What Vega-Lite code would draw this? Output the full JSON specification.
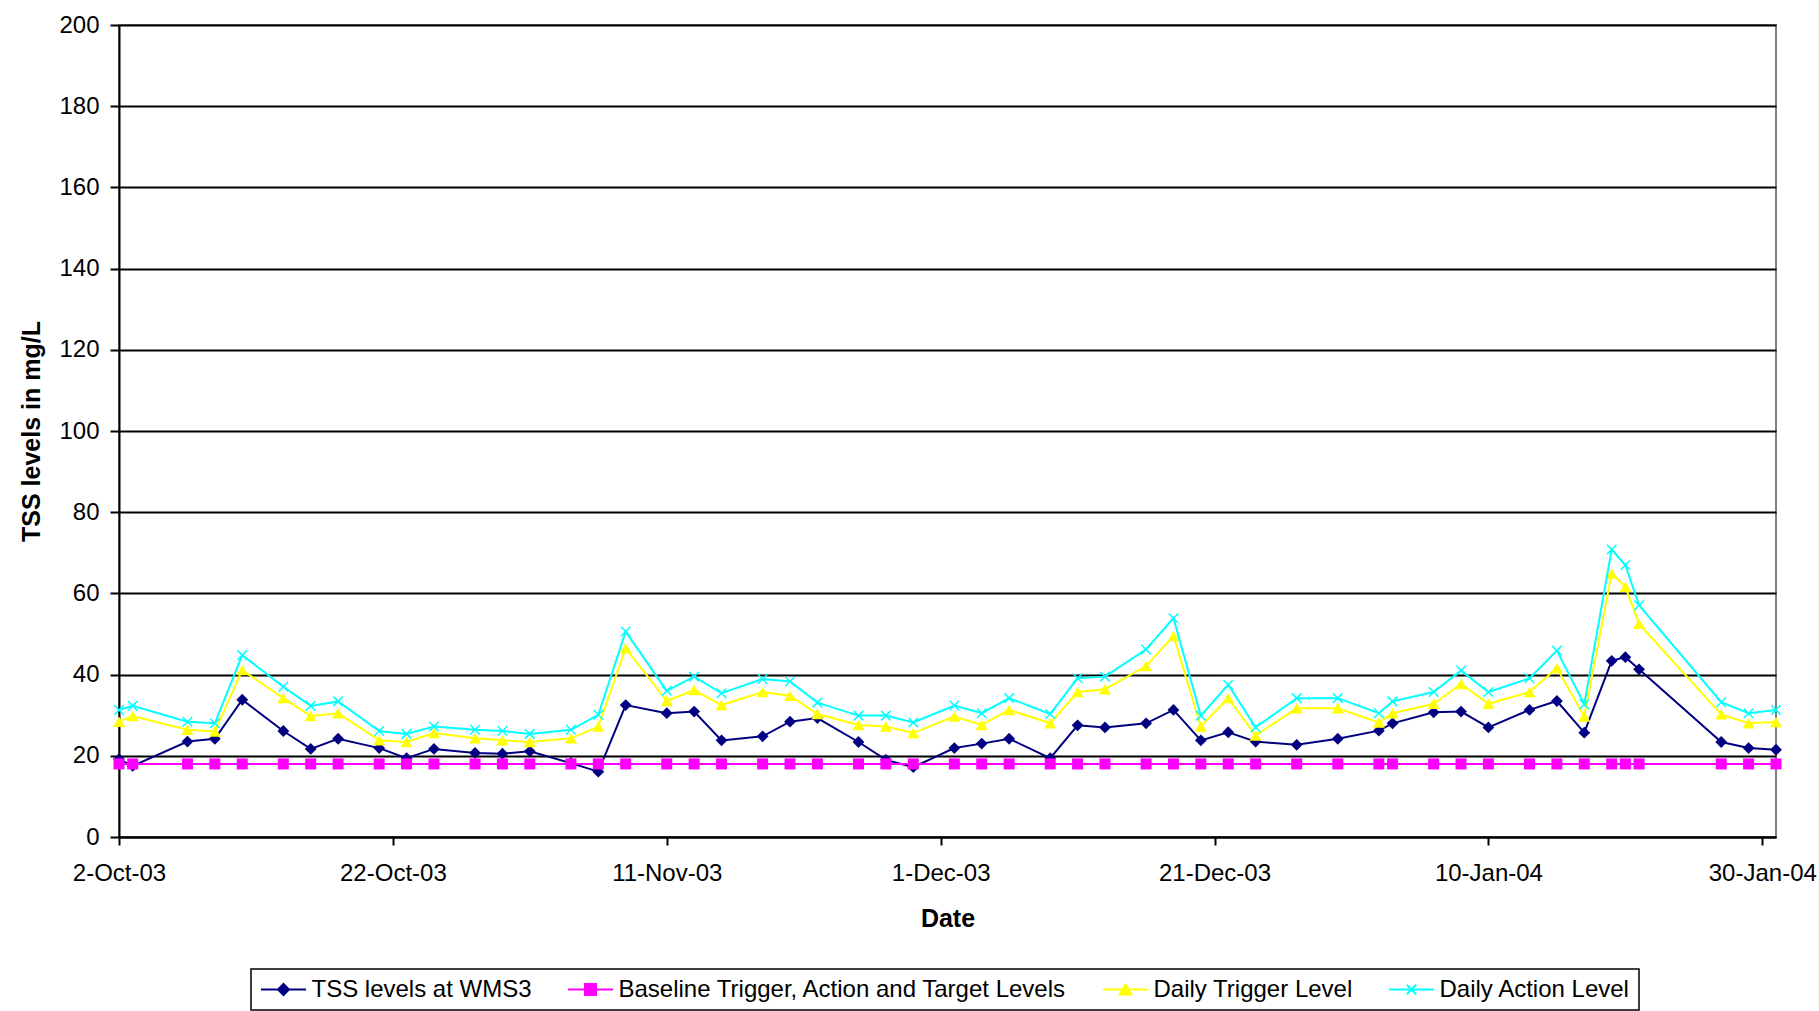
{
  "$schema": "https://vega.github.io/schema/vega-lite/v6.json",
  "width": 1657,
  "height": 812,
  "autosize": "none",
  "padding": {"left": 119, "top": 25, "right": 43, "bottom": 174},
  "background": "white",
  "config": {
    "font": "Liberation Sans",
    "view": {"stroke": "#808080", "strokeWidth": 2},
    "axis": {
      "domainColor": "#000", "domainWidth": 2, "tickColor": "#000", "tickWidth": 2, "tickSize": 8,
      "labelFont": "Liberation Sans", "labelFontSize": 24, "labelColor": "#000",
      "titleFont": "Liberation Sans", "titleFontSize": 25, "titleFontWeight": "bold", "titleColor": "#000"
    },
    "axisY": {"grid": true, "gridColor": "#000", "gridWidth": 2, "gridOpacity": 1, "tickCount": 10, "labelPadding": 11, "titlePadding": 14, "tickSize": 9},
    "axisX": {"grid": false, "labelPadding": 16, "titlePadding": 21},
    "legend": {"strokeWidth": 1.5}
  },
  "data": {"values": [
    {"date": "2003-10-02", "tss": 19.2, "base": 18, "trig": 28.4, "act": 31.3},
    {"date": "2003-10-03", "tss": 17.5, "base": 18, "trig": 29.8, "act": 32.3},
    {"date": "2003-10-07", "tss": 23.5, "base": 18, "trig": 26.4, "act": 28.4},
    {"date": "2003-10-09", "tss": 24.2, "base": 18, "trig": 26.0, "act": 28.0},
    {"date": "2003-10-11", "tss": 33.8, "base": 18, "trig": 41.1, "act": 44.8},
    {"date": "2003-10-14", "tss": 26.1, "base": 18, "trig": 34.2, "act": 37.0},
    {"date": "2003-10-16", "tss": 21.7, "base": 18, "trig": 29.8, "act": 32.3},
    {"date": "2003-10-18", "tss": 24.2, "base": 18, "trig": 30.5, "act": 33.4},
    {"date": "2003-10-21", "tss": 21.9, "base": 18, "trig": 23.8, "act": 26.1},
    {"date": "2003-10-23", "tss": 19.4, "base": 18, "trig": 23.4, "act": 25.4},
    {"date": "2003-10-25", "tss": 21.7, "base": 18, "trig": 25.6, "act": 27.2},
    {"date": "2003-10-28", "tss": 20.7, "base": 18, "trig": 24.3, "act": 26.4},
    {"date": "2003-10-30", "tss": 20.5, "base": 18, "trig": 23.8, "act": 26.1},
    {"date": "2003-11-01", "tss": 21.1, "base": 18, "trig": 23.4, "act": 25.4},
    {"date": "2003-11-04", "tss": 18.2, "base": 18, "trig": 24.3, "act": 26.4},
    {"date": "2003-11-06", "tss": 16.1, "base": 18, "trig": 27.2, "act": 30.1},
    {"date": "2003-11-08", "tss": 32.5, "base": 18, "trig": 46.5, "act": 50.6},
    {"date": "2003-11-11", "tss": 30.5, "base": 18, "trig": 33.5, "act": 36.0},
    {"date": "2003-11-13", "tss": 30.9, "base": 18, "trig": 36.2, "act": 39.5},
    {"date": "2003-11-15", "tss": 23.8, "base": 18, "trig": 32.5, "act": 35.4},
    {"date": "2003-11-18", "tss": 24.8, "base": 18, "trig": 35.7, "act": 38.9},
    {"date": "2003-11-20", "tss": 28.4, "base": 18, "trig": 34.8, "act": 38.3},
    {"date": "2003-11-22", "tss": 29.3, "base": 18, "trig": 30.3, "act": 33.1},
    {"date": "2003-11-25", "tss": 23.4, "base": 18, "trig": 27.6, "act": 29.9},
    {"date": "2003-11-27", "tss": 19.0, "base": 18, "trig": 27.2, "act": 29.9},
    {"date": "2003-11-29", "tss": 17.2, "base": 18, "trig": 25.6, "act": 28.2},
    {"date": "2003-12-02", "tss": 21.9, "base": 18, "trig": 29.7, "act": 32.4},
    {"date": "2003-12-04", "tss": 23.0, "base": 18, "trig": 27.6, "act": 30.5},
    {"date": "2003-12-06", "tss": 24.2, "base": 18, "trig": 31.3, "act": 34.2},
    {"date": "2003-12-09", "tss": 19.4, "base": 18, "trig": 28.0, "act": 30.3},
    {"date": "2003-12-11", "tss": 27.5, "base": 18, "trig": 35.7, "act": 39.1},
    {"date": "2003-12-13", "tss": 27.0, "base": 18, "trig": 36.4, "act": 39.5},
    {"date": "2003-12-16", "tss": 28.0, "base": 18, "trig": 42.1, "act": 46.2},
    {"date": "2003-12-18", "tss": 31.3, "base": 18, "trig": 49.5, "act": 53.9},
    {"date": "2003-12-20", "tss": 23.8, "base": 18, "trig": 27.2, "act": 29.9},
    {"date": "2003-12-22", "tss": 25.8, "base": 18, "trig": 34.2, "act": 37.5},
    {"date": "2003-12-24", "tss": 23.5, "base": 18, "trig": 25.0, "act": 27.0},
    {"date": "2003-12-27", "tss": 22.7, "base": 18, "trig": 31.7, "act": 34.2},
    {"date": "2003-12-30", "tss": 24.2, "base": 18, "trig": 31.7, "act": 34.2},
    {"date": "2004-01-02", "tss": 26.2, "base": 18, "trig": 28.2, "act": 30.5},
    {"date": "2004-01-03", "tss": 28.0, "base": 18, "trig": 30.5, "act": 33.4},
    {"date": "2004-01-06", "tss": 30.7, "base": 18, "trig": 32.8, "act": 35.7},
    {"date": "2004-01-08", "tss": 30.9, "base": 18, "trig": 37.7, "act": 41.0},
    {"date": "2004-01-10", "tss": 27.0, "base": 18, "trig": 32.8, "act": 35.7},
    {"date": "2004-01-13", "tss": 31.3, "base": 18, "trig": 35.7, "act": 39.1},
    {"date": "2004-01-15", "tss": 33.5, "base": 18, "trig": 41.6, "act": 45.9},
    {"date": "2004-01-17", "tss": 25.7, "base": 18, "trig": 29.7, "act": 32.7},
    {"date": "2004-01-19", "tss": 43.4, "base": 18, "trig": 64.9, "act": 70.8},
    {"date": "2004-01-20", "tss": 44.3, "base": 18, "trig": 61.6, "act": 67.0},
    {"date": "2004-01-21", "tss": 41.3, "base": 18, "trig": 52.5, "act": 57.1},
    {"date": "2004-01-27", "tss": 23.4, "base": 18, "trig": 30.2, "act": 33.2},
    {"date": "2004-01-29", "tss": 21.9, "base": 18, "trig": 28.0, "act": 30.5},
    {"date": "2004-01-31", "tss": 21.5, "base": 18, "trig": 28.3, "act": 31.3}
  ]},
  "encoding": {
    "x": {
      "field": "date", "type": "temporal", "title": "Date",
      "scale": {"type": "utc", "domain": [{"year": 2003, "month": 10, "date": 2, "utc": true}, {"year": 2004, "month": 1, "date": 31, "utc": true}]},
      "axis": {
        "values": [
          {"year": 2003, "month": 10, "date": 2, "utc": true},
          {"year": 2003, "month": 10, "date": 22, "utc": true},
          {"year": 2003, "month": 11, "date": 11, "utc": true},
          {"year": 2003, "month": 12, "date": 1, "utc": true},
          {"year": 2003, "month": 12, "date": 21, "utc": true},
          {"year": 2004, "month": 1, "date": 10, "utc": true},
          {"year": 2004, "month": 1, "date": 30, "utc": true}
        ],
        "labelExpr": "utcFormat(datum.value, '%-d-%b-%y')", "labelFlush": false, "labelOverlap": false
      }
    }
  },
  "layer": [
    {"mark": {"type": "line", "color": "#000080", "strokeWidth": 2},
     "encoding": {"y": {"field": "tss", "type": "quantitative", "title": "TSS levels in mg/L", "scale": {"domain": [0, 200], "nice": false}}}},
    {"mark": {"type": "point", "shape": "diamond", "filled": true, "color": "#000080", "size": 140, "opacity": 1, "strokeWidth": 0},
     "encoding": {"y": {"field": "tss", "type": "quantitative", "title": "TSS levels in mg/L"}}},
    {"mark": {"type": "line", "color": "#FF00FF", "strokeWidth": 2},
     "encoding": {"y": {"field": "base", "type": "quantitative", "title": "TSS levels in mg/L"}}},
    {"mark": {"type": "point", "shape": "square", "filled": true, "color": "#FF00FF", "size": 121, "opacity": 1, "strokeWidth": 0},
     "encoding": {"y": {"field": "base", "type": "quantitative", "title": "TSS levels in mg/L"}}},
    {"mark": {"type": "line", "color": "#FFFF00", "strokeWidth": 2},
     "encoding": {"y": {"field": "trig", "type": "quantitative", "title": "TSS levels in mg/L"}}},
    {"mark": {"type": "point", "shape": "triangle-up", "filled": true, "color": "#FFFF00", "size": 145, "opacity": 1, "strokeWidth": 0},
     "encoding": {"y": {"field": "trig", "type": "quantitative", "title": "TSS levels in mg/L"}}},
    {"mark": {"type": "line", "color": "#00FFFF", "strokeWidth": 2},
     "encoding": {"y": {"field": "act", "type": "quantitative", "title": "TSS levels in mg/L"}}},
    {"mark": {"type": "point", "shape": "M-1,-1L1,1M-1,1L1,-1", "filled": false, "color": "#00FFFF", "size": 90, "opacity": 1, "strokeWidth": 1.5},
     "encoding": {"y": {"field": "act", "type": "quantitative", "title": "TSS levels in mg/L"}}},
    {"transform": [{"filter": "datum.tss < 0"}],
     "mark": {"type": "point", "filled": true, "opacity": 1, "size": 121, "strokeWidth": 2},
     "encoding": {
       "y": {"field": "tss", "type": "quantitative", "title": "TSS levels in mg/L"},
       "fill": {"field": "series", "type": "nominal", "title": null,
         "scale": {"domain": ["TSS levels at WMS3", "Baseline Trigger, Action and Target Levels", "Daily Trigger Level", "Daily Action Level"],
                   "range": ["#000080", "#FF00FF", "#FFFF00", "#00FFFF"]},
         "legend": {"orient": "none", "legendX": 132, "legendY": 944, "direction": "horizontal", "columns": 4,
           "labelFontSize": 24, "labelFont": "Liberation Sans", "labelColor": "#000", "labelLimit": 0,
           "symbolSize": 121, "symbolStrokeWidth": 2, "symbolOffset": 12, "labelOffset": 16, "columnPadding": 31, "padding": 8.5,
           "strokeColor": "#000", "fillColor": "#fff", "cornerRadius": 0}},
       "stroke": {"field": "series", "type": "nominal", "title": null,
         "scale": {"domain": ["TSS levels at WMS3", "Baseline Trigger, Action and Target Levels", "Daily Trigger Level", "Daily Action Level"],
                   "range": ["#000080", "#FF00FF", "#FFFF00", "#00FFFF"]}},
       "shape": {"field": "series", "type": "nominal", "title": null,
         "scale": {"domain": ["TSS levels at WMS3", "Baseline Trigger, Action and Target Levels", "Daily Trigger Level", "Daily Action Level"],
                   "range": ["M-4.1,0L4.1,0M0,-1L1,0L0,1L-1,0Z", "M-4.1,0L4.1,0M-1,-1L1,-1L1,1L-1,1Z", "M-4.1,0L4.1,0M0,-0.9L-1.05,0.9L1.05,0.9Z", "M-4.1,0L4.1,0M-0.85,-0.85L0.85,0.85M-0.85,0.85L0.85,-0.85"]}}
     }}
  ]
}
